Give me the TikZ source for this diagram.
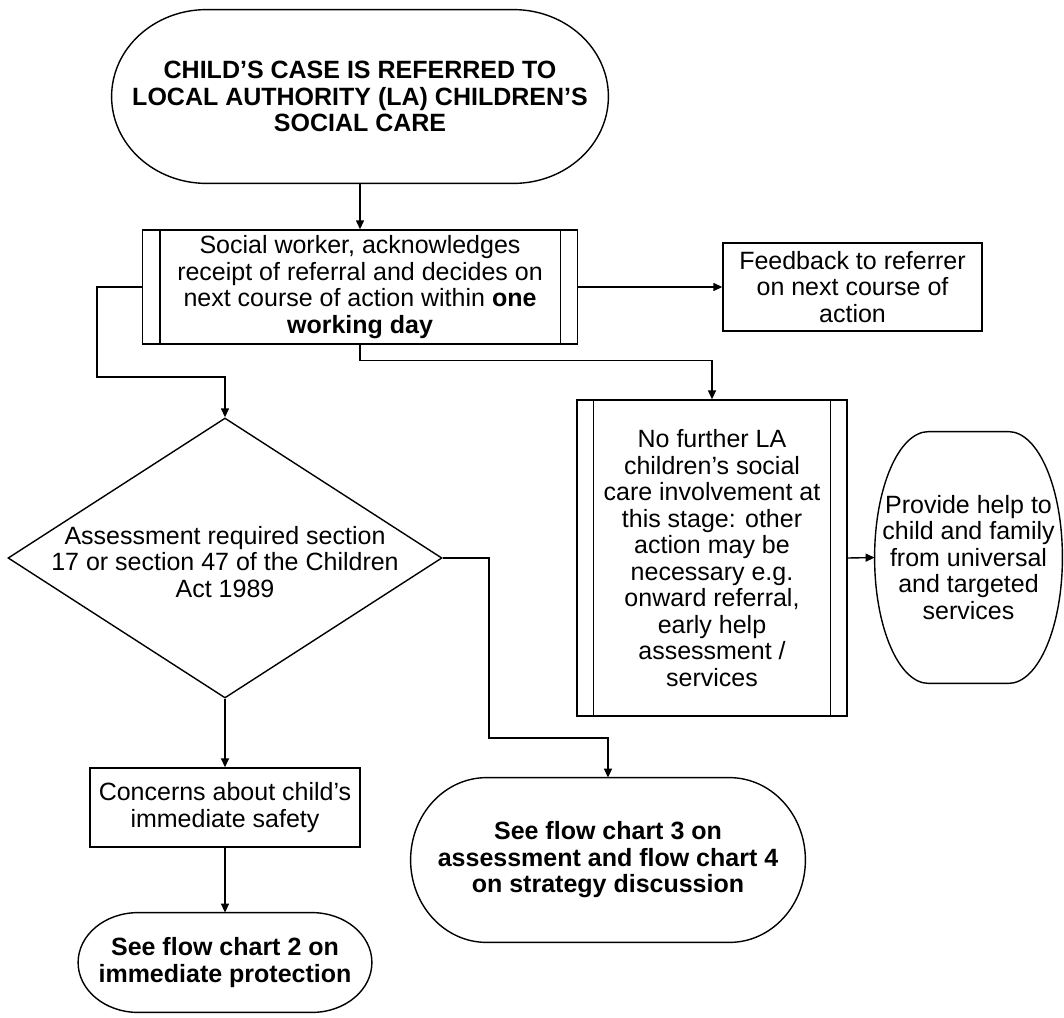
\documentclass[tikz,border=0pt]{standalone}
\usepackage{fontspec}
\setmainfont{Liberation Sans}
\usetikzlibrary{shapes.geometric, arrows.meta, calc}

\newcommand{\flowfont}{\fontsize{12.5}{13.25}\selectfont}

% outline with elliptic ends round a node: name, end radius
\newcommand{\capsule}[2]{%
  \draw[outline] let \p1=(#1.north), \p2=(#1.south), \n1={0.5*(\y1-\y2)} in
    ([xshift=#2]#1.north west) -- ([xshift=-#2]#1.north east)
    arc[start angle=90, end angle=-90, x radius=#2, y radius={\n1*1pt}]
    -- ([xshift=#2]#1.south west)
    arc[start angle=270, end angle=90, x radius=#2, y radius={\n1*1pt}] -- cycle;}

% the two inner bars of a predefined process box: name, inset
\newcommand{\sidebars}[2]{%
  \draw[outline] ([xshift=#2]#1.north west) -- ([xshift=#2]#1.south west)
    ([xshift=-#2]#1.north east) -- ([xshift=-#2]#1.south east);}

\tikzset{
  outline/.style={line width=0.7pt},
  plain/.style={draw, line width=0.7pt, align=center, inner sep=0pt},
  process/.style={plain},
  terminal/.style={align=center, inner sep=0pt},
  decision/.style={diamond, draw, line width=0.7pt, inner sep=0pt},
  flow/.style={line width=0.7pt, -{Triangle[length=4.5pt, width=4pt]}}
}

\begin{document}
\begin{tikzpicture}[x=0.5pt, y=-0.5pt, font=\flowfont]
  \path[use as bounding box, fill=white] (0,0) rectangle (1064,1017);

  % referral
  \node[terminal, minimum width=248pt, minimum height=86.5pt, font=\flowfont\bfseries] (refer) at (360,96.5)
    {CHILD’S CASE IS REFERRED TO\\LOCAL AUTHORITY (LA) CHILDREN’S\\SOCIAL CARE};
  \capsule{refer}{47.5pt}

  % social worker decision
  \node[process, minimum width=217.5pt, minimum height=57pt] (social) at (360,287)
    {Social worker, acknowledges\\receipt of referral and decides on\\next course of action within \textbf{one}\\\textbf{working day}};
  \sidebars{social}{9pt}

  \node[plain, minimum width=129.5pt, minimum height=44pt] (feedback) at (852.5,287)
    {Feedback to referrer\\on next course of\\action};

  % no further involvement
  \node[process, minimum width=135pt, minimum height=158pt] (nofurther) at (712,558)
    {No further LA\\children’s social\\care involvement at\\this stage: other\\action may be\\necessary e.g.\\onward referral,\\early help\\assessment /\\services};
  \sidebars{nofurther}{8.5pt}

  \node[terminal, minimum width=93.5pt, minimum height=125.5pt] (provide) at (968.5,557.5)
    {Provide help to\\child and family\\from universal\\and targeted\\services};
  \capsule{provide}{27pt}

  % assessment
  \node[decision, minimum width=217pt, minimum height=140pt,
    label={[align=center, yshift=-2pt, name=assesstext]center:Assessment required section\\17 or section 47 of the Children\\Act 1989}] (assess) at (225,558) {};

  \node[plain, minimum width=135pt, minimum height=39.5pt] (concerns) at (225,807.5)
    {Concerns about child’s\\immediate safety};

  \node[terminal, minimum width=146.5pt, minimum height=49.5pt, font=\flowfont\bfseries] (chart2) at (225,962.5)
    {See flow chart 2 on\\immediate protection};
  \capsule{chart2}{30pt}

  \node[terminal, minimum width=197pt, minimum height=82pt, font=\flowfont\bfseries] (chart3) at (608,860)
    {See flow chart 3 on\\assessment and flow chart 4\\on strategy discussion};
  \capsule{chart3}{38pt}

  % connectors
  \coordinate (leftbend) at (97,377);
  \coordinate (rightbend) at (489,738);
  \draw[flow] (refer.south) -- (social.north);
  \draw[flow] (social.east) -- (feedback.west);
  \draw[flow] (social.west) -| (leftbend) -| (assess.north);
  \draw[flow] (social.south) -- ++(0,16) -| (nofurther.north);
  \draw[flow] (nofurther.east) -- (provide.west);
  \draw[flow] (assess.south) -- (concerns.north);
  \draw[flow] (assess.east) -| (rightbend) -| (chart3.north);
  \draw[flow] (concerns.south) -- (chart2.north);
\end{tikzpicture}
\end{document}
